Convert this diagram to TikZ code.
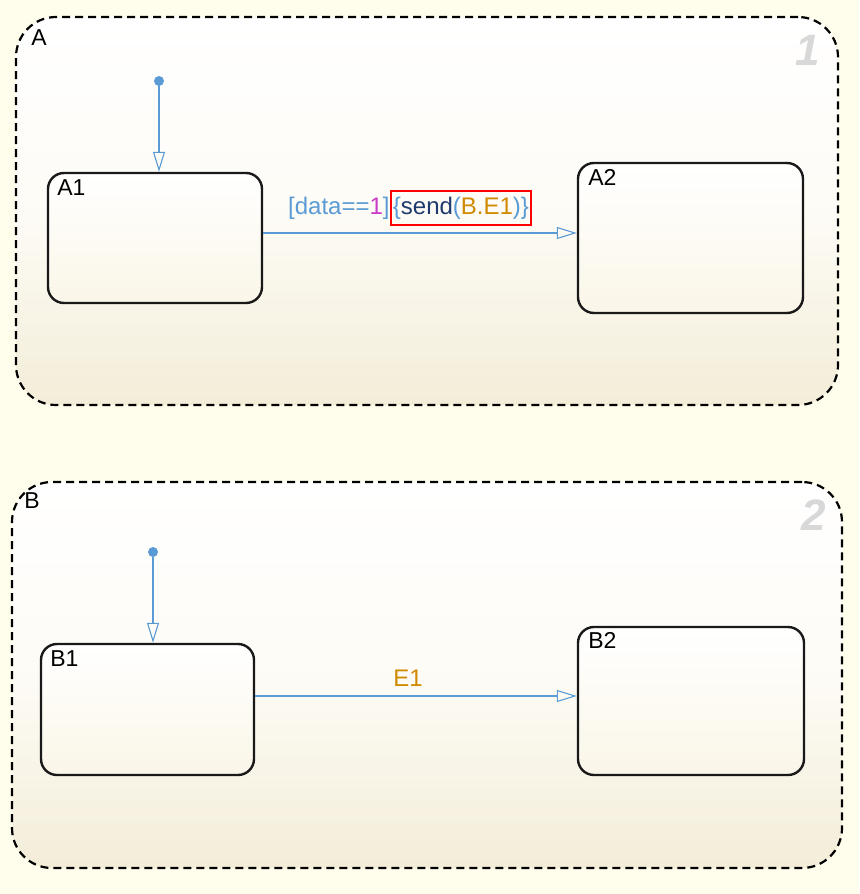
\documentclass[tikz,border=0pt]{standalone}
\usepackage{fontspec}
\setmainfont{Liberation Sans}
\usetikzlibrary{arrows.meta,calc}
\definecolor{bgc}{HTML}{FFFDEB}
\definecolor{beige}{HTML}{F3EDD8}
\definecolor{lbeige}{HTML}{FAF6E8}
\definecolor{tblue}{HTML}{5B9BD5}
\definecolor{tmag}{HTML}{C83CC8}
\definecolor{tnavy}{HTML}{1F3A6E}
\definecolor{torange}{HTML}{D08A00}
\definecolor{wm}{HTML}{D8D8D8}
\tikzset{
  super/.style={draw=black, line width=1.1pt, dash pattern=on 4pt off 2.5pt, rounded corners=20pt, top color=white, bottom color=beige, middle color=lbeige!40!white, inner sep=0pt},
  substate/.style={draw=black!90, line width=1.2pt, rounded corners=8pt, top color=white, bottom color=lbeige, inner sep=0pt},
  sname/.style={font=\fontsize{11.5}{13}\selectfont, anchor=north west, inner sep=0pt},
  trans/.style={draw=tblue, line width=0.55pt, -{Triangle[open,length=10pt,width=6pt]}},
  idot/.style={circle, fill=tblue, inner sep=0pt, minimum size=5pt},
  wmark/.style={font=\fontsize{22}{24}\selectfont\bfseries\itshape, text=wm, inner sep=0pt},
  lbl/.style={font=\fontsize{12}{14}\selectfont, inner sep=0pt}
}
\begin{document}
\begin{tikzpicture}[x=0.5pt,y=-0.5pt]
\useasboundingbox[fill=bgc] (0,0) rectangle (859,894);
% superstates
\node[super, minimum width=411pt, minimum height=194pt] (A) at (427,211) {};
\node[super, minimum width=415pt, minimum height=193pt] (B) at (427,675) {};
\node[sname] (Aname) at (31,29) {A};
\node[sname] (Bname) at (24,492) {B};
\node[wmark] (n1) at (808,50) {1};
\node[wmark] (n2) at (814,515) {2};
% substates
\node[substate, minimum width=107pt, minimum height=65pt] (A1) at (155,238) {};
\node[substate, minimum width=112.5pt, minimum height=75pt] (A2) at (690.5,238) {};
\node[substate, minimum width=106.5pt, minimum height=65.5pt] (B1) at (147.5,709.5) {};
\node[substate, minimum width=113pt, minimum height=74pt] (B2) at (691,701) {};
\node[sname] (A1n) at (57,179) {A1};
\node[sname] (A2n) at (588,169) {A2};
\node[sname] (B1n) at (50,650) {B1};
\node[sname] (B2n) at (588,632) {B2};
% default transitions
\node[idot] (dA) at (159,81) {};
\node[idot] (dB) at (153,552) {};
\draw[trans] (dA) -- (dA |- A1.north);
\draw[trans] (dB) -- (dB |- B1.north);
% transitions
\coordinate (t1s) at (A1.east |- 0,233);
\coordinate (t1e) at (A2.west |- 0,233);
\draw[trans] (t1s) -- (t1e);
\coordinate (t2s) at (B1.east |- 0,696);
\coordinate (t2e) at (B2.west |- 0,696);
\draw[trans] (t2s) -- (t2e);
% labels
\node[lbl, draw=red, line width=0.9pt, inner xsep=1pt, inner ysep=3pt, anchor=west] (act) at (390,208)
  {\textcolor{tblue}{\{}\textcolor{tnavy}{send}\textcolor{tblue}{(}\textcolor{torange}{B.E1}\textcolor{tblue}{)\}}};
\node[lbl, anchor=east] (grd) at (act.west)
  {\textcolor{tblue}{[data==}\textcolor{tmag}{1}\textcolor{tblue}{]}};
\node[lbl, text=torange] (ev) at (408,678) {E1};
\end{tikzpicture}
\end{document}
